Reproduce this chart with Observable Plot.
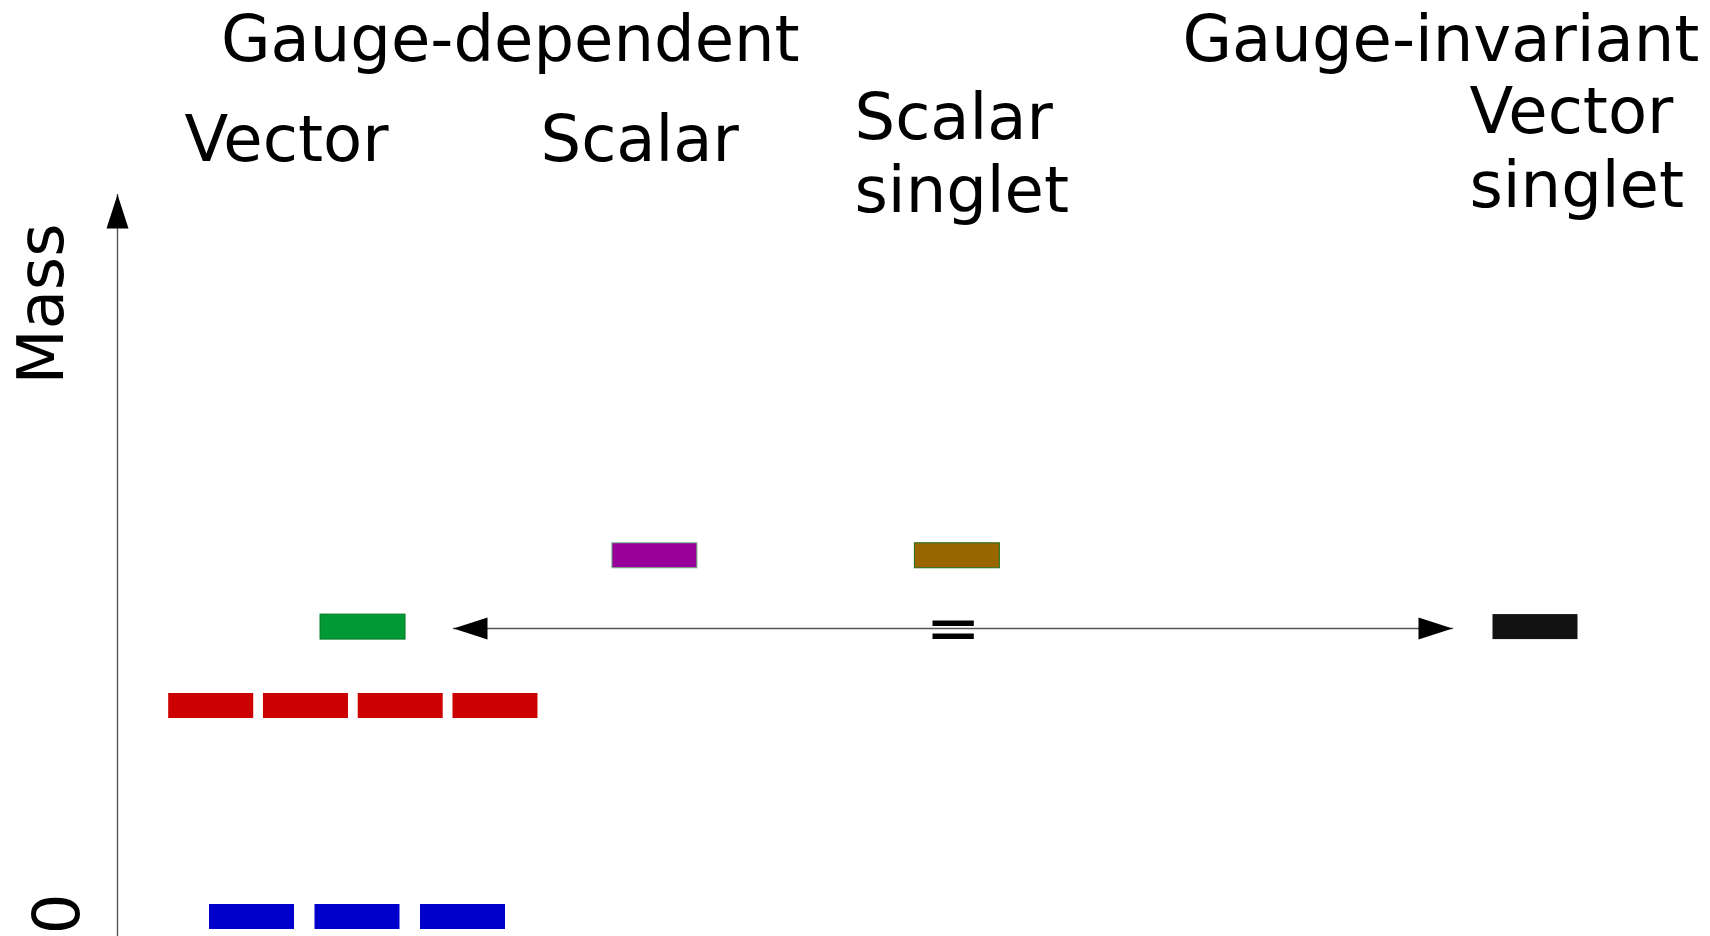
<!DOCTYPE html>
<html>
<head>
<meta charset="utf-8">
<script src="https://cdn.jsdelivr.net/npm/d3@7"></script>
<script src="https://cdn.jsdelivr.net/npm/@observablehq/plot@0.6"></script>
<style>
  html, body { margin: 0; padding: 0; background: #fff; overflow: hidden; }
  #chart svg { display: block; }
</style>
</head>
<body>
<div id="chart"></div>
<script>
// ---------------- data ----------------
const columns = ["Vector", "Scalar", "Scalar singlet", "Vector singlet"];
const columnLabels = ["Vector", "Scalar", "Scalar\nsinglet", "Vector\nsinglet"];
const groupTitles = ["Gauge-dependent", "Gauge-invariant"];
const multiplets = ["massless vectors", "massive vectors", "heavy vector", "scalar", "scalar singlet", "vector singlet"];
const multipletColumn = ["Vector", "Vector", "Vector", "Scalar", "Scalar singlet", "Vector singlet"];
const multipletMass = [0, 1.0, 1.374, 1.712, 1.712, 1.374];   // arbitrary units
const multipletStates = [3, 4, 1, 1, 1, 1];
const equalPair = ["heavy vector", "vector singlet"];
const equalSign = "=";
const axisTitle = "Mass";
const zeroLabel = "0";

// ---------------- layout & style ----------------
const FONT = "DejaVu Sans";
const xDomain = [-0.8054, 4.5403];
const yDomain = [-0.0924, 3.4242];
const columnPos = {"Vector": 0, "Scalar": 0.998, "Scalar singlet": 2.013, "Vector singlet": 3.953};
const statePitch = {"massless vectors": 0.354, "massive vectors": 0.318};
const stateShift = {"massive vectors": -0.014, "heavy vector": 0.0185};
const fills = {
  "massless vectors": "#0000cc", "massive vectors": "#cc0000", "heavy vector": "#009933",
  "scalar": "#990099", "scalar singlet": "#996600", "vector singlet": "#121212"
};
const strokes = {
  "massless vectors": "none", "massive vectors": "none", "heavy vector": "#007a2b",
  "scalar": "#74b884", "scalar singlet": "#1e6e1e", "vector singlet": "none"
};
const columnLabelPos = {
  "Vector": {x: -0.5805, y: 3.5853},
  "Scalar": {x: 0.6141, y: 3.5853},
  "Scalar singlet": {x: 1.6678, y: 3.3389},
  "Vector singlet": {x: 3.7315, y: 3.3673}
};
const groupTitlePos = [{x: -0.4581, y: 4.0592}, {x: 2.7685, y: 4.0592}];
const axisTitlePos = {x: -0.9899, y: 2.9052};
const zeroLabelX = -0.9362;

// ---------------- derived tables ----------------
const states = multiplets.flatMap((m, k) =>
  d3.range(multipletStates[k]).map(i => ({
    multiplet: m,
    mass: multipletMass[k],
    x: columnPos[multipletColumn[k]] + (stateShift[m] || 0) +
       (i - (multipletStates[k] - 1) / 2) * (statePitch[m] || 0)
  }))
);
const pairStates = equalPair.map(m => states.find(s => s.multiplet === m));
const link = [{x1: pairStates[0].x, y1: pairStates[0].mass, x2: pairStates[1].x, y2: pairStates[1].mass}];
const headerRows = columns.map((c, i) => ({text: columnLabels[i], ...columnLabelPos[c]}));
const titleRows = groupTitles.map((t, i) => ({text: t, ...groupTitlePos[i]}));

// filled arrow head: tip at the origin, pointing up
const arrowHead = {
  draw(context) {
    context.moveTo(0, 0);
    context.lineTo(11, 34);
    context.lineTo(-11, 34);
    context.closePath();
  }
};

const chart = Plot.plot({
  width: 1710,
  height: 936,
  marginLeft: 117,
  marginRight: 0,
  marginTop: 194,
  marginBottom: 0,
  style: {background: "white", fontFamily: FONT},
  x: {domain: xDomain, axis: null},
  y: {domain: yDomain, axis: null},
  marks: [
    // mass axis
    Plot.ruleX([xDomain[0]], {stroke: "#555", strokeWidth: 1.4}),
    Plot.dot([{x: xDomain[0], y: yDomain[1]}], {x: "x", y: "y", symbol: arrowHead, fill: "black", stroke: "none", r: 10}),
    Plot.text([axisTitle], {x: axisTitlePos.x, y: axisTitlePos.y, rotate: -90, textAnchor: "middle", lineAnchor: "bottom", fontSize: 64, fontFamily: FONT, fill: "black"}),
    Plot.text([zeroLabel], {x: zeroLabelX, y: 0, dy: -3, rotate: -90, textAnchor: "middle", lineAnchor: "bottom", fontSize: 64, fontFamily: FONT, fill: "black"}),

    // equal-mass double arrow
    Plot.arrow(link, {x1: "x1", y1: "y1", x2: "x2", y2: "y2", insetStart: 90.5, insetEnd: 83, headLength: 0, dy: 1.5, stroke: "#555", strokeWidth: 1.5}),
    Plot.dot(link, {x: "x1", y: "y1", dx: 90.5, dy: 1.5, rotate: -90, symbol: arrowHead, fill: "black", stroke: "none", r: 10}),
    Plot.dot(link, {x: "x2", y: "y2", dx: -83, dy: 1.5, rotate: 90, symbol: arrowHead, fill: "black", stroke: "none", r: 10}),
    Plot.text(link, {x: d => (d.x1 + d.x2) / 2, y: "y1", text: () => equalSign, dx: 4, dy: 1.5, textAnchor: "middle", lineAnchor: "middle", fontSize: 66, fontFamily: FONT, fill: "black"}),

    // states
    Plot.rect(states, {
      x1: "x", x2: "x", y1: "mass", y2: "mass",
      insetLeft: -42.5, insetRight: -42.5, insetTop: -12.5, insetBottom: -12.5,
      fill: d => fills[d.multiplet], stroke: d => strokes[d.multiplet], strokeWidth: 1
    }),

    // headers
    Plot.text(headerRows, {x: "x", y: "y", text: "text", textAnchor: "start", lineAnchor: "bottom", lineHeight: 1.15, fontSize: 64, fontFamily: FONT, fill: "black"}),
    Plot.text(titleRows, {x: "x", y: "y", text: "text", textAnchor: "start", lineAnchor: "bottom", fontSize: 64, fontFamily: FONT, fill: "black"})
  ]
});
document.getElementById("chart").appendChild(chart);
</script>
</body>
</html>
